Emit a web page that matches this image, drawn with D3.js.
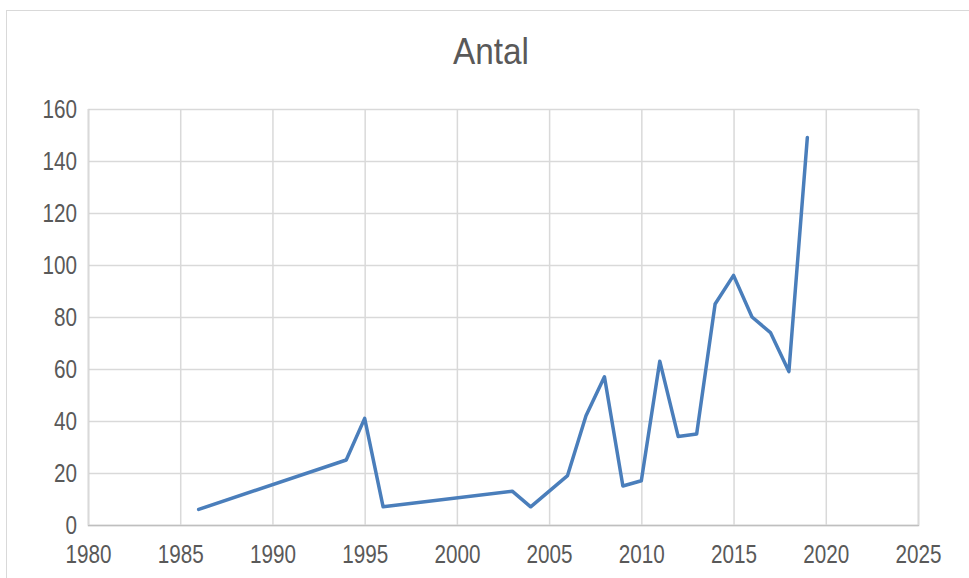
<!DOCTYPE html>
<html lang="en">
<head>
    <meta charset="UTF-8">
    <title>Antal</title>
    <script src="https://d3js.org/d3.v7.min.js"></script>
    <style>
        body, html {
            margin: 0;
            padding: 0;
            background: #fff;
        }
        svg text {
            font-family: "Liberation Sans", Arial, sans-serif;
            fill: #595959;
        }
    </style>
</head>
<body>
    <div id="chart"></div>
    <script>
        // Data
        const years = [1986, 1994, 1995, 1996, 2003, 2004, 2006, 2007, 2008, 2009, 2010, 2011, 2012, 2013, 2014, 2015, 2016, 2017, 2018, 2019];
        const antal = [6, 25, 41, 7, 13, 7, 19, 42, 57, 15, 17, 63, 34, 35, 85, 96, 80, 74, 59, 149];
        const xTicks = [1980, 1985, 1990, 1995, 2000, 2005, 2010, 2015, 2020, 2025];
        const yTicks = [0, 20, 40, 60, 80, 100, 120, 140, 160];

        const width = 969;
        const height = 578;
        const margin = {top: 109, right: 51, bottom: 53, left: 88};

        // the original font is narrow: squeeze glyphs to this width per digit
        const digitW = 11.5;

        const svg = d3.select("#chart")
            .append("svg")
            .attr("width", width)
            .attr("height", height);

        // Chart frame
        svg.append("rect")
            .attr("x", 6.5)
            .attr("y", 10.5)
            .attr("width", width)
            .attr("height", height)
            .attr("fill", "none")
            .attr("stroke", "#d9d9d9")
            .attr("stroke-width", 1);

        const x = d3.scaleLinear()
            .domain([1980, 2025])
            .range([margin.left, width - margin.right]);

        const y = d3.scaleLinear()
            .domain([0, 160])
            .range([height - margin.bottom, margin.top]);

        // Title
        svg.append("text")
            .attr("x", 491)
            .attr("y", 64)
            .attr("text-anchor", "middle")
            .attr("textLength", 76)
            .attr("lengthAdjust", "spacingAndGlyphs")
            .style("font-size", "36px")
            .text("Antal");

        // Horizontal gridlines + y labels
        const yAxis = d3.axisLeft(y)
            .tickValues(yTicks)
            .tickSize(-(width - margin.left - margin.right))
            .tickPadding(11);

        const gy = svg.append("g")
            .attr("transform", `translate(${margin.left},0)`)
            .call(yAxis);
        gy.select(".domain").remove();
        gy.selectAll(".tick line")
            .attr("stroke", "#d9d9d9")
            .attr("stroke-width", 1.5);
        gy.selectAll(".tick text")
            .style("font-size", "25px")
            .attr("textLength", d => String(d).length * digitW)
            .attr("lengthAdjust", "spacingAndGlyphs");

        // Vertical gridlines + x labels
        const xAxis = d3.axisBottom(x)
            .tickValues(xTicks)
            .tickFormat(d3.format("d"))
            .tickSize(-(height - margin.top - margin.bottom))
            .tickPadding(20);

        const gx = svg.append("g")
            .attr("transform", `translate(0,${height - margin.bottom})`)
            .call(xAxis);
        gx.select(".domain")
            .attr("stroke", "#bfbfbf")
            .attr("stroke-width", 1.5);
        gx.selectAll(".tick line")
            .attr("stroke", "#d9d9d9")
            .attr("stroke-width", 1.5);
        gx.selectAll(".tick text")
            .style("font-size", "25px")
            .attr("textLength", d => String(d).length * digitW)
            .attr("lengthAdjust", "spacingAndGlyphs");

        // Series line
        const line = d3.line()
            .x((d, i) => x(years[i]))
            .y(d => y(d));

        svg.append("path")
            .datum(antal)
            .attr("d", line)
            .attr("fill", "none")
            .attr("stroke", "#4a7ebb")
            .attr("stroke-width", 3.5)
            .attr("stroke-linejoin", "round")
            .attr("stroke-linecap", "round");
    </script>
</body>
</html>
